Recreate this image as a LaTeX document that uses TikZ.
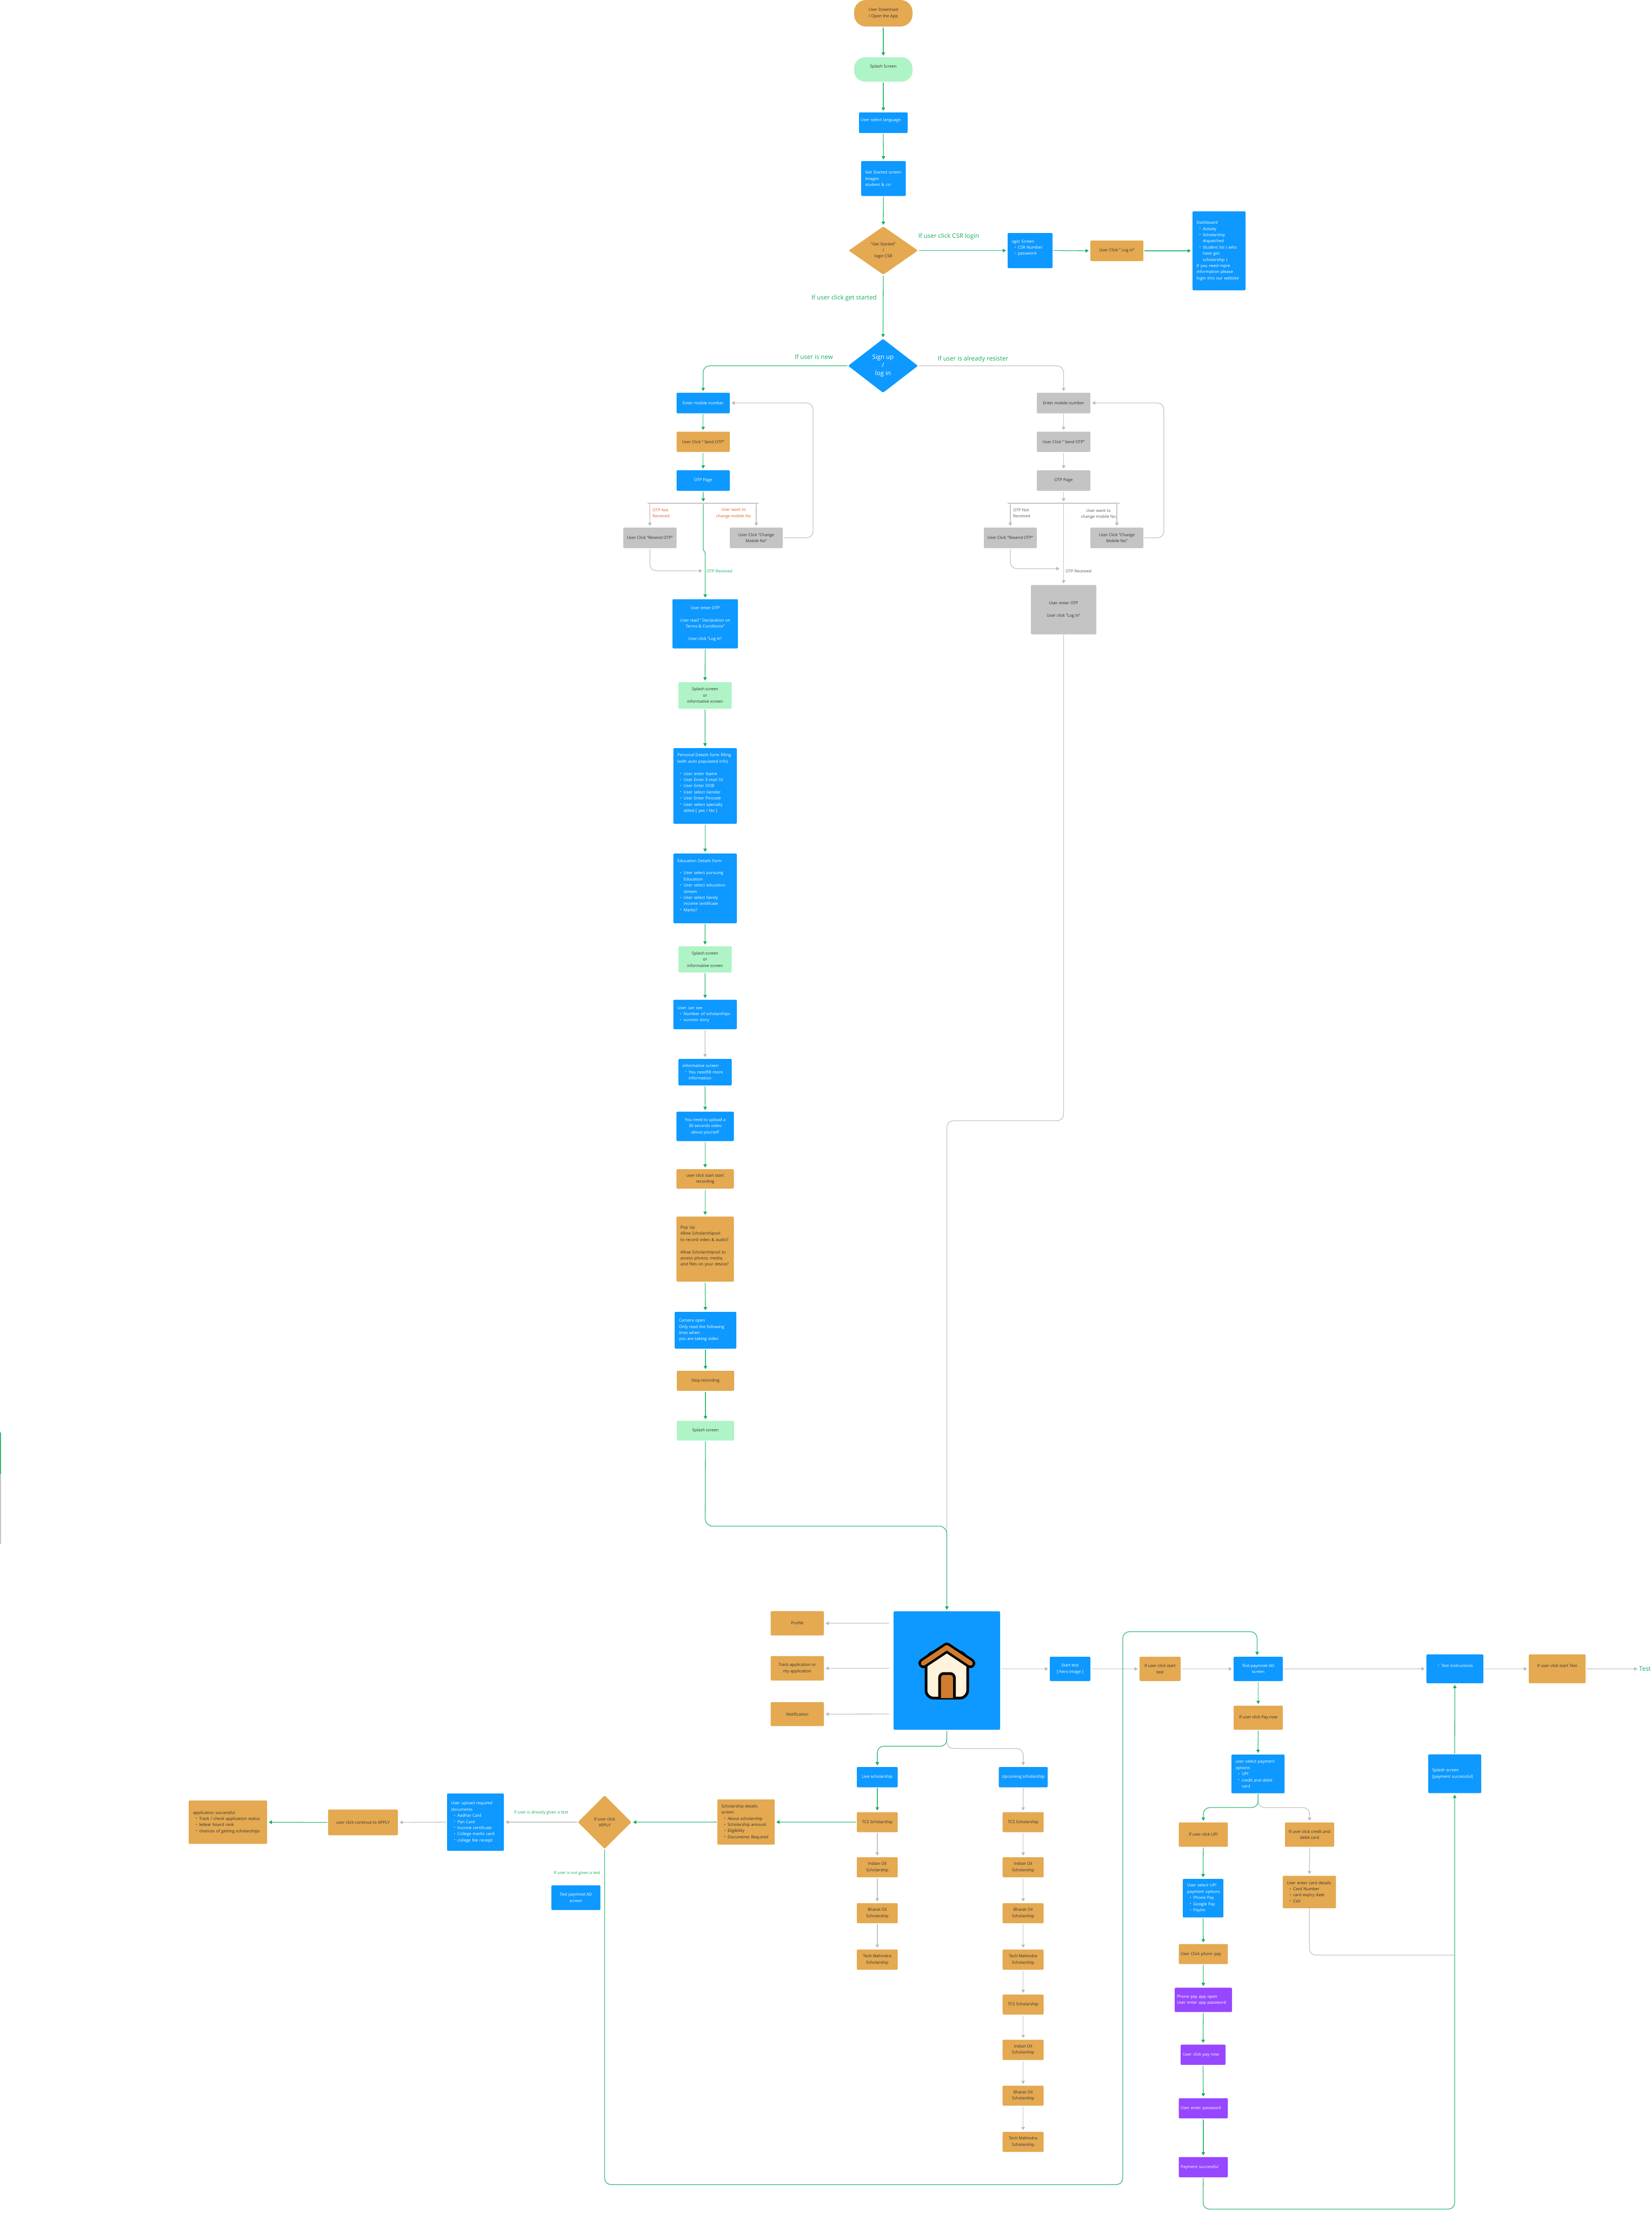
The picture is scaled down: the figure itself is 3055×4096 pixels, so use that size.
\documentclass[tikz,border=0pt]{standalone}
\usepackage{fontspec}
\setmainfont{Open Sans}
\usetikzlibrary{arrows.meta,shapes.geometric}
\definecolor{cblue}{HTML}{0D99FF}
\definecolor{corg}{HTML}{E4A951}
\definecolor{cmint}{HTML}{AFF4C6}
\definecolor{cgrey}{HTML}{C4C4C4}
\definecolor{cpurple}{HTML}{9747FF}
\definecolor{gline}{HTML}{35BE78}
\definecolor{gtip}{HTML}{14AE5C}
\definecolor{gyline}{HTML}{C4C4C4}
\definecolor{gytip}{HTML}{BBBBBB}
\definecolor{ctext}{HTML}{333333}
\definecolor{corange}{HTML}{E0592A}
\definecolor{croof}{HTML}{D07B2E}
\definecolor{ccream}{HTML}{FFF3DC}
\tikzset{
  basebox/.style={rectangle,rounded corners=2pt,inner sep=0pt,outer sep=0pt,align=center,
    font=\fontsize{7.6}{11.4}\selectfont},
  bluebox/.style={basebox,fill=cblue,text=white},
  orbox/.style={basebox,fill=corg,text=ctext},
  mintbox/.style={basebox,fill=cmint,text=ctext},
  greybox/.style={basebox,fill=cgrey,text=ctext},
  purplebox/.style={basebox,fill=cpurple,text=white},
  pill/.style={rounded corners=22pt},
  pillb/.style={rounded corners=20pt},
  dia/.style={diamond,inner sep=0pt,outer sep=0pt,align=center,rounded corners=2pt},
  gconn/.style={draw=gline,line width=1.3pt,rounded corners=12pt,shorten >=3pt,shorten <=1.5pt,
    -{Triangle[length=6pt,width=6.5pt,fill=gtip,color=gtip]}},
  yconn/.style={draw=gyline,line width=1.3pt,rounded corners=12pt,shorten >=3pt,shorten <=1.5pt,
    -{Triangle[length=6pt,width=6.5pt,fill=gytip,color=gytip]}},
  gplain/.style={draw=gline,line width=1.3pt,rounded corners=12pt},
  yplain/.style={draw=gyline,line width=1.3pt,rounded corners=12pt},
  biglabel/.style={inner sep=0pt,text=gtip,font=\fontsize{11.5}{14}\selectfont},
  smalllabel/.style={inner sep=0pt,text=gtip,font=\fontsize{7.6}{10}\selectfont},
  midlabel/.style={inner sep=0pt,text=gtip,font=\fontsize{7.6}{11.4}\selectfont},
  orlabel/.style={inner sep=0pt,text=corange,font=\fontsize{7.6}{11.4}\selectfont},
  gylabel/.style={inner sep=0pt,text=black!65,font=\fontsize{7.6}{11.4}\selectfont},
}
% centred box: name, style, x1, y1, x2, y2, text
\newcommand{\bx}[7]{\node[#2,minimum width={(#5-#3)*1pt},minimum height={(#6-#4)*1pt}] (#1) at ({(#3+#5)/2},{(#4+#6)/2}) {#7};}
% left-aligned box: name, style, x1, y1, x2, y2, pad, text
\newcommand{\lbx}[8]{\pgfmathsetmacro{\twd}{#5-#3-2}\node[#2,align=left,text width=\twd pt,minimum width={(#5-#3)*1pt},minimum height={(#6-#4)*1pt}] (#1) at ({(#3+#5)/2},{(#4+#6)/2}) {\leftskip=#7pt \rightskip=-20pt plus 1fil #8\par};}
\newcommand{\dm}[7]{\pgfmathsetmacro{\asp}{(#5-#3)/(#6-#4)}\node[dia,#2,shape aspect=\asp,minimum width={(#5-#3)*1pt},minimum height={(#6-#4)*1pt}] (#1) at ({(#3+#5)/2},{(#4+#6)/2}) {#7};}
\newcommand{\blt}[1]{\hspace*{5pt}\makebox[6.5pt][l]{\raisebox{0.5pt}{\fontsize{7}{7}\selectfont\textbullet}}#1}
\newcommand{\cnt}[1]{\hspace*{11.5pt}#1}
\begin{document}
\begin{tikzpicture}[x=1pt,y=-1pt]
\useasboundingbox (0,0) rectangle (3055,4096);
\fill[white] (0,0) rectangle (3055,4096);

% ---- top column
\bx{start}{orbox,pill}{1580}{0}{1688}{49}{User Download\\/ Open the App}
\bx{splash}{mintbox,pillb}{1580}{106}{1688}{151}{Splash Screen\\~}
\lbx{lang}{bluebox}{1589}{208}{1679}{246}{2}{User select language\\~}
\lbx{gs}{bluebox}{1593}{298}{1675.5}{362.5}{6.5}{Get Started screen\\Images\\student \& csr}
\dm{dget}{fill=corg,text=ctext,font=\fontsize{7.6}{11.4}\selectfont}{1570}{419}{1698}{508}{"Get Started"\\/\\login CSR}
\lbx{login}{bluebox}{1864}{431}{1947}{496}{6.5}{Login Screen\\\blt{CSR Number}\\\blt{password}\\~}
\bx{logclick}{orbox}{2017}{445}{2115}{483}{User Click " Log in"}
\lbx{dash}{bluebox}{2206}{391}{2304}{537}{6.5}{Dashboard\\\blt{Activity}\\\blt{Scholarship}\\\cnt{dispatched}\\\blt{Student list ( who}\\\cnt{have got}\\\cnt{scholarship )}\\If you need mpre\\information please\\login into our website}
\dm{dsign}{fill=cblue,text=white,font=\fontsize{11.5}{15.2}\selectfont}{1569}{627}{1698}{726.5}{Sign up\\/\\log in}

\node[biglabel] (lcsr) at (1755,437.5) {If user click CSR login};
\node[biglabel] (lget) at (1561.5,551) {If user click get started};
\node[biglabel] (lnew) at (1505.5,660) {If user is new};
\node[biglabel] (lalr) at (1800,664.5) {If user is already resister};

% ---- new user column
\bx{lmob}{bluebox}{1251.5}{726.5}{1350}{764.5}{Enter mobile number}
\bx{lsend}{orbox}{1251.5}{798.5}{1350}{836}{User Click " Send OTP"}
\bx{lotp}{bluebox}{1251.5}{870}{1350}{908}{OTP Page}
\bx{lres}{greybox}{1153}{976}{1251.5}{1014}{User Click "Resend OTP"}
\bx{lchg}{greybox}{1350}{976}{1448}{1014}{User Click "Change\\Mobile No"}
\bx{lent}{bluebox}{1244}{1108.5}{1365}{1199.5}{User enter OTP\\~\\User read " Declaration on\\Terms \& Conditions"\\~\\User click "Log In"}
\bx{lspl}{mintbox}{1255}{1262}{1353.5}{1311}{Splash screen\\or\\informative screen}
\lbx{pers}{bluebox}{1245.7}{1384}{1363}{1524}{6.5}{Personal Details form filling\\(with auto populated info)\\~\\\blt{User enter Name}\\\blt{User Enter E-mail I'd}\\\blt{User Enter DOB}\\\blt{User select Gender}\\\blt{User Enter Pincode}\\\blt{User select specially}\\\cnt{abled [ yes / No ]}\\~}
\lbx{edu}{bluebox}{1245.7}{1579}{1363}{1708}{6.5}{Education Details form\\~\\\blt{User select pursuing}\\\cnt{Education}\\\blt{User select education}\\\cnt{stream}\\\blt{User select family}\\\cnt{income certificate}\\\blt{Marks?}\\~}
\bx{lspb}{mintbox}{1255}{1750.5}{1353.5}{1799}{Splash screen\\or\\informative screen}
\lbx{cansee}{bluebox}{1245.7}{1849.5}{1363}{1904}{6.5}{User can see\\\blt{Number of scholarships}\\\blt{success story}}
\lbx{inform}{bluebox}{1255}{1959}{1353.5}{2008}{6.5}{informative screen\\\blt{You needfill more}\\\cnt{information}}
\bx{upl}{bluebox}{1251.4}{2056.6}{1357.5}{2111}{You need to upload a\\30 seconds  video\\about yourself}
\bx{crec}{orbox}{1251.4}{2163}{1357.5}{2199}{user click start start\\recording}
\lbx{pop}{orbox}{1251.4}{2250.5}{1357.5}{2371}{6.5}{Pop Up\\Allow Scholarshipool\\to record video \& audio?\\~\\Allow Scholarshipool to\\access photos, media,\\and files on your device?\\~}
\lbx{cam}{bluebox}{1248}{2427}{1362}{2495}{7}{Camera open\\Only read the following\\lines when\\you are taking video}
\bx{stoprec}{orbox}{1252}{2536}{1358}{2573}{Stop recording}
\bx{spl3}{mintbox}{1252}{2628.6}{1358}{2665}{Splash screen}

% ---- registered user column
\bx{rmob}{greybox}{1918}{726.5}{2017}{764.5}{Enter mobile number}
\bx{rsend}{greybox}{1918}{798.5}{2017}{836}{User Click " Send OTP"}
\bx{rotp}{greybox}{1918}{870}{2017}{908}{OTP Page}
\bx{rres}{greybox}{1820}{976}{1918}{1014}{User Click "Resend OTP"}
\bx{rchg}{greybox}{2017}{976}{2115}{1014}{User Click "Change\\Mobile No"}
\bx{rent}{greybox}{1907}{1082.4}{2028}{1173.5}{User enter OTP\\~\\User click "Log In"}

% ---- home
\bx{home}{bluebox}{1653}{2981}{1850}{3200}{}
\bx{prof}{orbox}{1425.7}{2980.6}{1524}{3025.5}{Profile}
\bx{track}{orbox}{1425.7}{3063.8}{1524}{3109}{Track application or\\my application}
\bx{notif}{orbox}{1425.7}{3149}{1524}{3193.4}{Notification}
% house icon
\begin{scope}[line join=round]
\draw[fill=ccream,line width=5pt,rounded corners=14pt] (1713,3060) -- (1713,3141.5) -- (1790,3141.5) -- (1790,3060) -- (1751.5,3050) -- cycle;
\draw[fill=croof,line width=5pt,rounded corners=8pt] (1738,3141.5) -- (1738,3096) -- (1765.5,3096) -- (1765.5,3141.5);
\draw[line width=18pt,line cap=round] (1708,3077) -- (1751.5,3048) -- (1795,3077);
\draw[line width=9pt,line cap=round,croof] (1708,3077) -- (1751.5,3048) -- (1795,3077);
\end{scope}

\bx{live}{bluebox}{1585}{3269}{1660.7}{3306.6}{Live scholarship}
\bx{atcs}{orbox}{1585}{3352.5}{1660.7}{3389.5}{TCS Scholarship}
\bx{aio}{orbox}{1585}{3436}{1660.7}{3473}{Indian Oil\\Scholarship}
\bx{abh}{orbox}{1585}{3521}{1660.7}{3558}{Bharat Oil\\Scholarship}
\bx{atm}{orbox}{1585}{3606.6}{1660.7}{3644}{Tech Mahindra\\Scholarship}

\bx{upc}{bluebox}{1847.7}{3269}{1938}{3306.6}{Upcoming scholarship}
\bx{utcs}{orbox}{1854.7}{3352.5}{1930.6}{3389.5}{TCS Scholarship}
\bx{uio}{orbox}{1854.7}{3436}{1930.6}{3473}{Indian Oil\\Scholarship}
\bx{ubh}{orbox}{1854.7}{3521}{1930.6}{3558}{Bharat Oil\\Scholarship}
\bx{utm}{orbox}{1854.7}{3606.6}{1930.6}{3644}{Tech Mahindra\\Scholarship}
\bx{vtcs}{orbox}{1854.7}{3690}{1930.6}{3727}{TCS Scholarship}
\bx{vio}{orbox}{1854.7}{3773.5}{1930.6}{3811}{Indian Oil\\Scholarship}
\bx{vbh}{orbox}{1854.7}{3858.5}{1930.6}{3895.6}{Bharat Oil\\Scholarship}
\bx{vtm}{orbox}{1854.7}{3944}{1930.6}{3981}{Tech Mahindra\\Scholarship}

% ---- apply row
\lbx{sdet}{orbox}{1327}{3329}{1433}{3412.7}{6.5}{Scholarship details\\screen\\\blt{About scholarship}\\\blt{Scholarship amount}\\\blt{Eligibility}\\\blt{Documents Required}}
\dm{dapp}{fill=corg,text=ctext,font=\fontsize{7.6}{11.4}\selectfont}{1069}{3321.7}{1168}{3420.3}{If user click\\APPLY}
\lbx{docs}{bluebox}{827}{3318}{932}{3424}{6.5}{User upload required\\documents\\\blt{Aadhar Card}\\\blt{Pan Card}\\\blt{Income certificate}\\\blt{College marks card}\\\blt{college fee receipt}}
\bx{cont}{orbox}{607}{3347.7}{736}{3395.3}{user click continue to APPLY}
\lbx{appok}{orbox}{349}{3331}{494}{3411.3}{7}{application successful\\\blt{Track / check application status}\\\blt{ledear board rank}\\\blt{chances of getting scholarships}}
\bx{tpl}{bluebox}{1020}{3488}{1110.6}{3533.7}{Test paymnet AD\\screen}
\node[smalllabel] (lalg) at (1001,3353) {If user is already given a test};
\node[smalllabel,anchor=east] (lnot) at (1110.6,3465) {If user is not given a test};

% ---- test row
\bx{st}{bluebox}{1942}{3065}{2017}{3110}{Start test\\{[} hero image ]}
\bx{uct}{orbox}{2108}{3065}{2184}{3110}{If user click start\\test}
\bx{tpad}{bluebox}{2282}{3065}{2373}{3110}{Test paymnet AD\\screen}
\bx{paynow}{orbox}{2282}{3155.5}{2373}{3200}{If user click Pay now}
\lbx{usp}{bluebox}{2278}{3246}{2376.4}{3317.6}{6.5}{user select payment\\options\\\blt{UPI}\\\blt{credit and debit}\\\cnt{card}}
\bx{cupi}{orbox}{2180.5}{3371.5}{2271.4}{3416.6}{If user click UPI}
\bx{ccard}{orbox}{2377}{3371.5}{2468}{3416.6}{If user click credit and\\debit card}
\lbx{usel}{bluebox}{2188}{3476}{2263}{3547.4}{7}{User select UPI\\payment options\\\blt{Phone Pay}\\\blt{Google Pay}\\\blt{Paytm}}
\lbx{cdet}{orbox}{2373}{3470.3}{2471.4}{3530.4}{6.5}{User enter card details\\\blt{Card Number}\\\blt{card expiry date}\\\blt{CVV}}
\lbx{cphone}{orbox}{2180.5}{3596.6}{2271.4}{3633.7}{2.5}{User Click phonr pay}
\lbx{ppo}{purplebox}{2173}{3677.4}{2279}{3722.4}{3}{Phone pay app open\\User enter app password}
\lbx{upay}{purplebox}{2184}{3782.5}{2267}{3820}{3}{User click pay now}
\lbx{upw}{purplebox}{2180.5}{3881.7}{2271.4}{3919}{2.5}{User enter password}
\lbx{psucc}{purplebox}{2180.5}{3990.5}{2271.4}{4028}{2.5}{Payment successful}
\lbx{ti}{bluebox}{2638.5}{3060.7}{2744}{3114}{15}{\blt{Test instructions}\\~}
\bx{ust}{orbox}{2828}{3060.7}{2933}{3114}{If user click start Test\\~}
\lbx{spp}{bluebox}{2642}{3245.7}{2740}{3317.3}{6.5}{Splash screen\\{[}payment successful]}
\node[inner sep=0pt,anchor=west,text=gtip,font=\fontsize{11.5}{14}\selectfont] (testl) at (3032,3087.4) {Test};

% ---- junctions
\coordinate (lbarA) at (1198,931); \coordinate (lbarB) at (1403,931);
\coordinate (lbarM) at (1301,931); \coordinate (lbarL) at (1202,931); \coordinate (lbarR) at (1399,931);
\coordinate (lkinkA) at (1301,1018.5); \coordinate (lkinkB) at (1304.5,1021);
\coordinate (lresEnd) at (1302,1056);
\coordinate (lrailA) at (1504,995); \coordinate (lrailB) at (1504,745.5);
\coordinate (rbarA) at (1864,931); \coordinate (rbarB) at (2071,931);
\coordinate (rbarM) at (1967.5,931); \coordinate (rbarL) at (1869,931); \coordinate (rbarR) at (2066,931);
\coordinate (rresEnd) at (1963,1052);
\coordinate (rrailA) at (2153,995); \coordinate (rrailB) at (2153,745.5);
\coordinate (gdropA) at (1967.5,2073.5); \coordinate (gdropB) at (1751.5,2073.5);
\coordinate (sdropA) at (1304.5,2823.5); \coordinate (sdropB) at (1751.5,2823.5);
\coordinate (hwA) at (1646,3003); \coordinate (hwB) at (1646,3086.5); \coordinate (hwC) at (1646,3171);
\coordinate (hbrG) at (1751.5,3230.6); \coordinate (hbrY) at (1751.5,3234.8);
\coordinate (pbrG) at (2327.5,3344); \coordinate (loopA) at (1118.5,4041.6);
\coordinate (loopB) at (2077,4041.6); \coordinate (loopC) at (2077,3018.7); \coordinate (loopD) at (2325.5,3018.7);
\coordinate (psA) at (2225.5,4087); \coordinate (psB) at (2691,4087);
\coordinate (cdA) at (2422.2,3617); \coordinate (cdB) at (2691,3617);

% ---- labels of the OTP branches
\node[orlabel,anchor=west,align=left] (lnr) at (1207,949.5) {OTP Not\\Received};
\node[orlabel,align=center] (lwm) at (1357,949.5) {User want to\\change mobile No};
\node[midlabel,anchor=west] (lor) at (1307,1057) {OTP  Received};
\node[gylabel,anchor=west,align=left] (rnr) at (1874,949) {OTP Not\\Received};
\node[gylabel,align=center] (rwm) at (2032,951) {User want to\\change mobile No};
\node[gylabel,anchor=west] (ror) at (1971,1057) {OTP  Received};

% ---- grey connectors
\draw[yconn] (dsign.east) -| (rmob.north);
\draw[yplain] (lbarA) -- (lbarB);
\draw[yconn] (lbarL) -- (lres.north);
\draw[yconn] (lbarR) -- (lchg.north);
\draw[yconn] (lres.south) |- (lresEnd);
\draw[yconn] (lchg.east) -- (lrailA) -- (lrailB) -- (lmob.east);
\draw[yconn] (rmob.south) -- (rsend.north);
\draw[yconn] (rsend.south) -- (rotp.north);
\draw[yconn] (rotp.south) -- (rbarM);
\draw[yplain] (rbarA) -- (rbarB);
\draw[yconn] (rbarL) -- (rres.north);
\draw[yconn] (rbarR) -- (rchg.north);
\draw[yconn] (rres.south) |- (rresEnd);
\draw[yconn] (rchg.east) -- (rrailA) -- (rrailB) -- (rmob.east);
\draw[yconn] (rbarM) -- (rent.north);
\draw[yconn] (rent.south) -- (gdropA) -- (gdropB) -- (home.north);
\draw[yconn] (cansee.south) -- (inform.north);
\draw[yconn] (hwA) -- (prof.east);
\draw[yconn] (hwB) -- (track.east);
\draw[yconn] (hwC) -- (notif.east);
\draw[yconn] (home.south) -- (hbrY) -| (upc.north);
\draw[yconn] (home.east |- st.west) -- (st.west);
\draw[yconn] (st.east) -- (uct.west);
\draw[yconn] (uct.east) -- (tpad.west);
\draw[yconn] (tpad.east) -- (ti.west);
\draw[yconn] (ti.east) -- (ust.west);
\draw[yconn] (ust.east) -- (testl.west);
\draw[yconn] (atcs.south) -- (aio.north);
\draw[yconn] (aio.south) -- (abh.north);
\draw[yconn] (abh.south) -- (atm.north);
\draw[yconn] (upc.south) -- (utcs.north);
\draw[yconn] (utcs.south) -- (uio.north);
\draw[yconn] (uio.south) -- (ubh.north);
\draw[yconn] (ubh.south) -- (utm.north);
\draw[yconn] (utm.south) -- (vtcs.north);
\draw[yconn] (vtcs.south) -- (vio.north);
\draw[yconn] (vio.south) -- (vbh.north);
\draw[yconn] (vbh.south) -- (vtm.north);
\draw[yconn] (dapp.west) -- (docs.east);
\draw[yconn] (docs.west) -- (cont.east);
\draw[yconn] (usp.south) |- (ccard.north |- pbrG) -- (ccard.north);
\draw[yconn] (ccard.south) -- (cdet.north);
\draw[yplain] (cdet.south) -- (cdA) -- (cdB);

% ---- green connectors
\draw[gconn] (start.south) -- (splash.north);
\draw[gconn] (splash.south) -- (lang.north);
\draw[gconn] (lang.south) -- (gs.north);
\draw[gconn] (gs.south) -- (dget.north);
\draw[gconn] (dget.east) -- (login.west);
\draw[gconn] (login.east) -- (logclick.west);
\draw[gconn] (logclick.east) -- (dash.west);
\draw[gconn] (dget.south) -- (dsign.north);
\draw[gconn] (dsign.west) -| (lmob.north);
\draw[gconn] (lmob.south) -- (lsend.north);
\draw[gconn] (lsend.south) -- (lotp.north);
\draw[gconn] (lotp.south) -- (lbarM);
\draw[gconn,rounded corners=2pt] (lbarM) -- (lkinkA) -- (lkinkB) -- (lent.north);
\draw[gconn] (lent.south) -- (lspl.north);
\draw[gconn] (lspl.south) -- (pers.north);
\draw[gconn] (pers.south) -- (edu.north);
\draw[gconn] (edu.south) -- (lspb.north);
\draw[gconn] (lspb.south) -- (cansee.north);
\draw[gconn] (inform.south) -- (upl.north);
\draw[gconn] (upl.south) -- (crec.north);
\draw[gconn] (crec.south) -- (pop.north);
\draw[gconn] (pop.south) -- (cam.north);
\draw[gconn] (cam.south) -- (stoprec.north);
\draw[gconn] (stoprec.south) -- (spl3.north);
\draw[gconn,rounded corners=14pt] (spl3.south) -- (sdropA) -- (sdropB) -- (home.north);
\draw[gconn] (home.south) -- (hbrG) -| (live.north);
\draw[gconn] (live.south) -- (atcs.north);
\draw[gconn] (atcs.west) -- (sdet.east);
\draw[gconn] (sdet.west) -- (dapp.east);
\draw[gconn] (cont.west) -- (appok.east);
\draw[gconn] (dapp.south) -- (loopA) -- (loopB) -- (loopC) -- (loopD) -- ([xshift=-2pt]tpad.north);
\draw[gconn] (tpad.south) -- (paynow.north);
\draw[gconn] (paynow.south) -- (usp.north);
\draw[gconn] (usp.south) -- (pbrG) -| (cupi.north);
\draw[gconn] (cupi.south) -- (usel.north);
\draw[gconn] (usel.south) -- (cphone.north);
\draw[gconn] (cphone.south) -- (ppo.north);
\draw[gconn] (ppo.south) -- (upay.north);
\draw[gconn] (upay.south) -- (upw.north);
\draw[gconn] (upw.south) -- (psucc.north);
\draw[gconn] (psucc.south) -- (psA) -- (psB) -- (spp.south);
\draw[gconn] (spp.north) -- (ti.south);

% ---- edge marks at the left of the sheet
\fill[gline] (0,2650) rectangle (2,2727);
\fill[gyline] (0,2727) rectangle (2,2856);
\end{tikzpicture}
\end{document}
